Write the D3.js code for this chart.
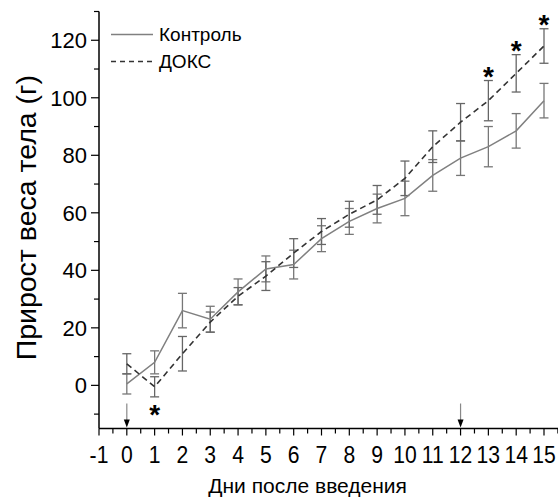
<!DOCTYPE html>
<html>
<head>
<meta charset="utf-8">
<script src="https://cdn.jsdelivr.net/npm/d3@7"></script>
<style>
  body { margin: 0; background: #fff; }
  svg { display: block; font-family: "Liberation Sans", Arial, sans-serif; }
</style>
</head>
<body>
<svg id="chart" width="558" height="501"></svg>
<script>
const days = [0, 1, 2, 3, 4, 5, 6, 7, 8, 9, 10, 11, 12, 13, 14, 15];
const control = [0.5, 8, 26, 23, 32.5, 40.5, 42, 51, 57, 61.5, 65, 73, 79, 83, 88.5, 99];
const controlErr = [3.5, 4, 6, 4.5, 4.5, 4.5, 5, 4.5, 4.5, 5, 6, 5.5, 6, 7, 6, 6];
const doks = [7.5, -0.5, 11, 22, 31, 38, 46, 53.5, 59.5, 64.5, 72, 83, 91.5, 99, 108.5, 118];
const doksErr = [3.5, 3.5, 6, 3.5, 3, 5, 5, 4.5, 4.5, 5, 6, 5.5, 6.5, 7, 6.5, 6];
const xTicks = [-1, 0, 1, 2, 3, 4, 5, 6, 7, 8, 9, 10, 11, 12, 13, 14, 15];
const yTicks = [0, 20, 40, 60, 80, 100, 120];
const sigAbove = [13, 14, 15];   // * над ДОКС
const sigBelow = [1];            // * под ДОКС
const arrowDays = [0, 12];       // введения
const seriesNames = ['Контроль', 'ДОКС'];

const svg = d3.select('#chart');
const x = d3.scaleLinear().domain([-1, 15]).range([99, 544]);
const y = d3.scaleLinear().domain([-15, 130]).range([428.5, 11.5]);

// axes
const xAxis = svg.append('g').attr('transform', `translate(0,${y(-15)})`);
xAxis.append('line').attr('x1', x(-1)).attr('x2', 558).attr('stroke', '#000').attr('stroke-width', 1.5);
xAxis.selectAll('.minor').data(d3.range(-1, 15.6, 0.5)).enter().append('line')
  .attr('x1', d => x(d)).attr('x2', d => x(d))
  .attr('y1', 0).attr('y2', d => Number.isInteger(d) ? 7 : 5)
  .attr('stroke', '#000').attr('stroke-width', 1.2);
xAxis.selectAll('text').data(xTicks).enter().append('text')
  .attr('transform', d => `translate(${x(d)},34) scale(0.92,1)`)
  .attr('text-anchor', 'middle')
  .style('font-size', '23px')
  .text(d => d);

const yAxis = svg.append('g').attr('transform', `translate(${x(-1)},0)`);
yAxis.append('line').attr('y1', y(-15)).attr('y2', y(130)).attr('stroke', '#000').attr('stroke-width', 1.5);
yAxis.selectAll('.tk').data(d3.range(-10, 131, 10)).enter().append('line')
  .attr('y1', d => y(d)).attr('y2', d => y(d))
  .attr('x1', d => d % 20 === 0 ? -8 : -5).attr('x2', 0)
  .attr('stroke', '#000').attr('stroke-width', 1.2);
yAxis.selectAll('text').data(yTicks).enter().append('text')
  .attr('x', -12).attr('y', d => y(d)).attr('dy', '0.36em')
  .attr('text-anchor', 'end')
  .style('font-size', '22px')
  .text(d => d);

svg.append('text')
  .attr('transform', `translate(36,${y(58.3)}) rotate(-90)`)
  .attr('text-anchor', 'middle')
  .style('font-size', '28.5px')
  .text('Прирост веса тела (г)');

svg.append('text')
  .attr('transform', `translate(${x(6.5)},493)`)
  .attr('text-anchor', 'middle')
  .style('font-size', '21px')
  .text('Дни после введения');

// error bars
function errorBars(vals, errs, color) {
  const g = svg.append('g').attr('stroke', color).attr('stroke-width', 1.3);
  days.forEach((d, i) => {
    const hi = y(vals[i] + errs[i]), lo = y(vals[i] - errs[i]), cx = x(d);
    g.append('line').attr('x1', cx).attr('x2', cx).attr('y1', hi).attr('y2', lo);
    g.append('line').attr('x1', cx - 4.5).attr('x2', cx + 4.5).attr('y1', hi).attr('y2', hi);
    g.append('line').attr('x1', cx - 4.5).attr('x2', cx + 4.5).attr('y1', lo).attr('y2', lo);
  });
}
errorBars(control, controlErr, '#777');
errorBars(doks, doksErr, '#666');

const line = d3.line().x((d, i) => x(days[i])).y(d => y(d));
svg.append('path').datum(control).attr('d', line)
  .attr('fill', 'none').attr('stroke', '#808080').attr('stroke-width', 1.5);
svg.append('path').datum(doks).attr('d', line)
  .attr('fill', 'none').attr('stroke', '#333').attr('stroke-width', 1.6)
  .attr('stroke-dasharray', '6,4');

// significance marks
sigAbove.forEach(d => {
  const i = days.indexOf(d);
  svg.append('text').attr('x', x(d)).attr('y', y(doks[i] + doksErr[i]) + 5)
    .attr('text-anchor', 'middle').style('font-size', '28px').style('font-weight', 'bold').text('*');
});
sigBelow.forEach(d => {
  const i = days.indexOf(d);
  svg.append('text').attr('x', x(d)).attr('y', y(doks[i] - doksErr[i]) + 27)
    .attr('text-anchor', 'middle').style('font-size', '28px').style('font-weight', 'bold').text('*');
});

// arrows
arrowDays.forEach(d => {
  const cx = x(d), base = y(-15);
  svg.append('line').attr('x1', cx).attr('x2', cx).attr('y1', base - 25).attr('y2', base - 7)
    .attr('stroke', '#888').attr('stroke-width', 1.2);
  svg.append('path').attr('d', `M${cx - 3},${base - 9} L${cx + 3},${base - 9} L${cx},${base - 1} Z`)
    .attr('fill', '#000');
});

// legend
const legend = svg.append('g');
seriesNames.forEach((name, i) => {
  const ly = 34.5 + i * 27;
  legend.append('line').attr('x1', 111).attr('x2', 153).attr('y1', ly).attr('y2', ly)
    .attr('stroke', i === 0 ? '#808080' : '#333').attr('stroke-width', 1.5)
    .attr('stroke-dasharray', i === 0 ? null : '5,4');
  legend.append('text')
    .attr('transform', `translate(159,${ly})`)
    .attr('dy', '0.35em')
    .style('font-size', '19px')
    .text(name);
});
</script>
</body>
</html>
